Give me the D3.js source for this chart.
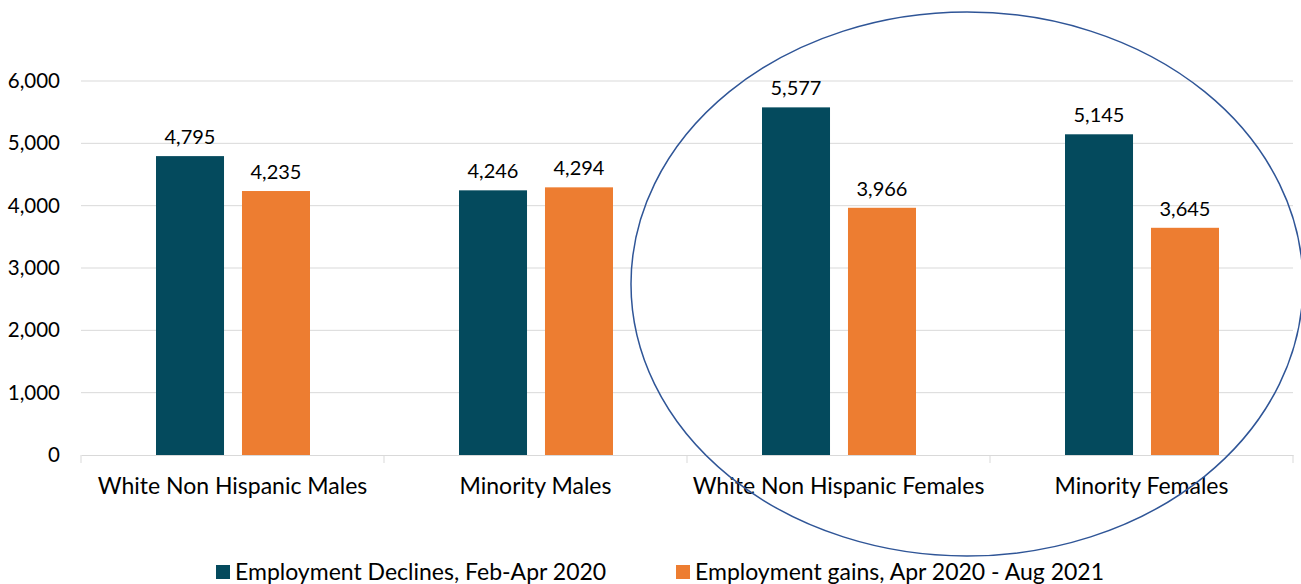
<!DOCTYPE html>
<html><head><meta charset="utf-8">
<script src="https://cdn.jsdelivr.net/npm/d3@7"></script>
<style>body{margin:0;background:#fff}svg{display:block}text{font-family:Lato,"Open Sans",sans-serif;fill:#000}</style>
</head><body><svg id="c" width="1301" height="584"></svg>
<script>
const categories = ["White Non Hispanic Males","Minority Males","White Non Hispanic Females","Minority Females"];
const seriesNames = ["Employment Declines, Feb-Apr 2020","Employment gains, Apr 2020 - Aug 2021"];
const declines = [4795,4246,5577,5145];
const gains = [4235,4294,3966,3645];
const yTicks = [0,1000,2000,3000,4000,5000,6000];
const colors = ["#044A5D","#ED7D31"];

const svg = d3.select("#c");
const x0 = d3.scaleBand().domain(categories).range([81,1293]);
const x1 = d3.scaleBand().domain([0,1]).range([75,229]).paddingInner(0.209);
const y = d3.scaleLinear().domain([0,6000]).range([455,81]);

// gridlines
svg.append("g").selectAll("line").data(yTicks.slice(1)).join("line")
  .attr("x1",81).attr("x2",1293).attr("y1",d=>y(d)).attr("y2",d=>y(d))
  .attr("stroke","#d9d9d9").attr("stroke-width",1);

// y axis labels
const yAxis = d3.axisLeft(y).tickValues(yTicks).tickFormat(d3.format(",")).tickSize(0).tickPadding(21);
const ga = svg.append("g").attr("transform","translate(81,0)").call(yAxis);
ga.select(".domain").remove();
ga.selectAll("text").attr("font-size",20.5).style("font-family","Lato, 'Open Sans', sans-serif").attr("fill","#000");

// bars
const data = categories.map((c,i)=>({c, vals:[declines[i],gains[i]]}));
const g = svg.append("g").selectAll("g").data(data).join("g").attr("transform",d=>`translate(${x0(d.c)},0)`);
g.selectAll("rect").data(d=>d.vals.map((v,k)=>({v,k}))).join("rect")
  .attr("x",d=>x1(d.k)).attr("width",x1.bandwidth())
  .attr("y",d=>y(d.v)).attr("height",d=>y(0)-y(d.v)).attr("fill",d=>colors[d.k]);
g.selectAll("text").data(d=>d.vals.map((v,k)=>({v,k}))).join("text")
  .attr("x",d=>x1(d.k)+x1.bandwidth()/2).attr("y",d=>y(d.v)-12)
  .attr("text-anchor","middle").attr("font-size",20).text(d=>d3.format(",")(d.v));

// x axis
const xAxis = d3.axisBottom(x0).tickSize(0).tickPadding(23);
const gx = svg.append("g").attr("transform","translate(0,455)").call(xAxis);
gx.select(".domain").attr("stroke","#d9d9d9");
gx.selectAll("text").attr("font-size",23).style("font-family","Lato, 'Open Sans', sans-serif").attr("fill","#000");
gx.selectAll(".sep").data([0,1,2,3,4]).join("line").attr("class","sep")
  .attr("x1",i=>81+i*x0.step()).attr("x2",i=>81+i*x0.step()).attr("y1",0).attr("y2",8)
  .attr("stroke","#d9d9d9");

// ellipse highlight
svg.append("ellipse").attr("cx",967).attr("cy",284).attr("rx",336).attr("ry",272)
  .attr("fill","none").attr("stroke","#2F5597").attr("stroke-width",1.5);

// legend
const legX = [216,676];
const lg = svg.append("g").selectAll("g").data(seriesNames).join("g")
  .attr("transform",(d,i)=>`translate(${legX[i]},565)`);
lg.append("rect").attr("width",14).attr("height",14).attr("fill",(d,i)=>colors[i]);
lg.append("text").attr("x",19).attr("y",15).attr("font-size",23).text(d=>d);
</script></body></html>
